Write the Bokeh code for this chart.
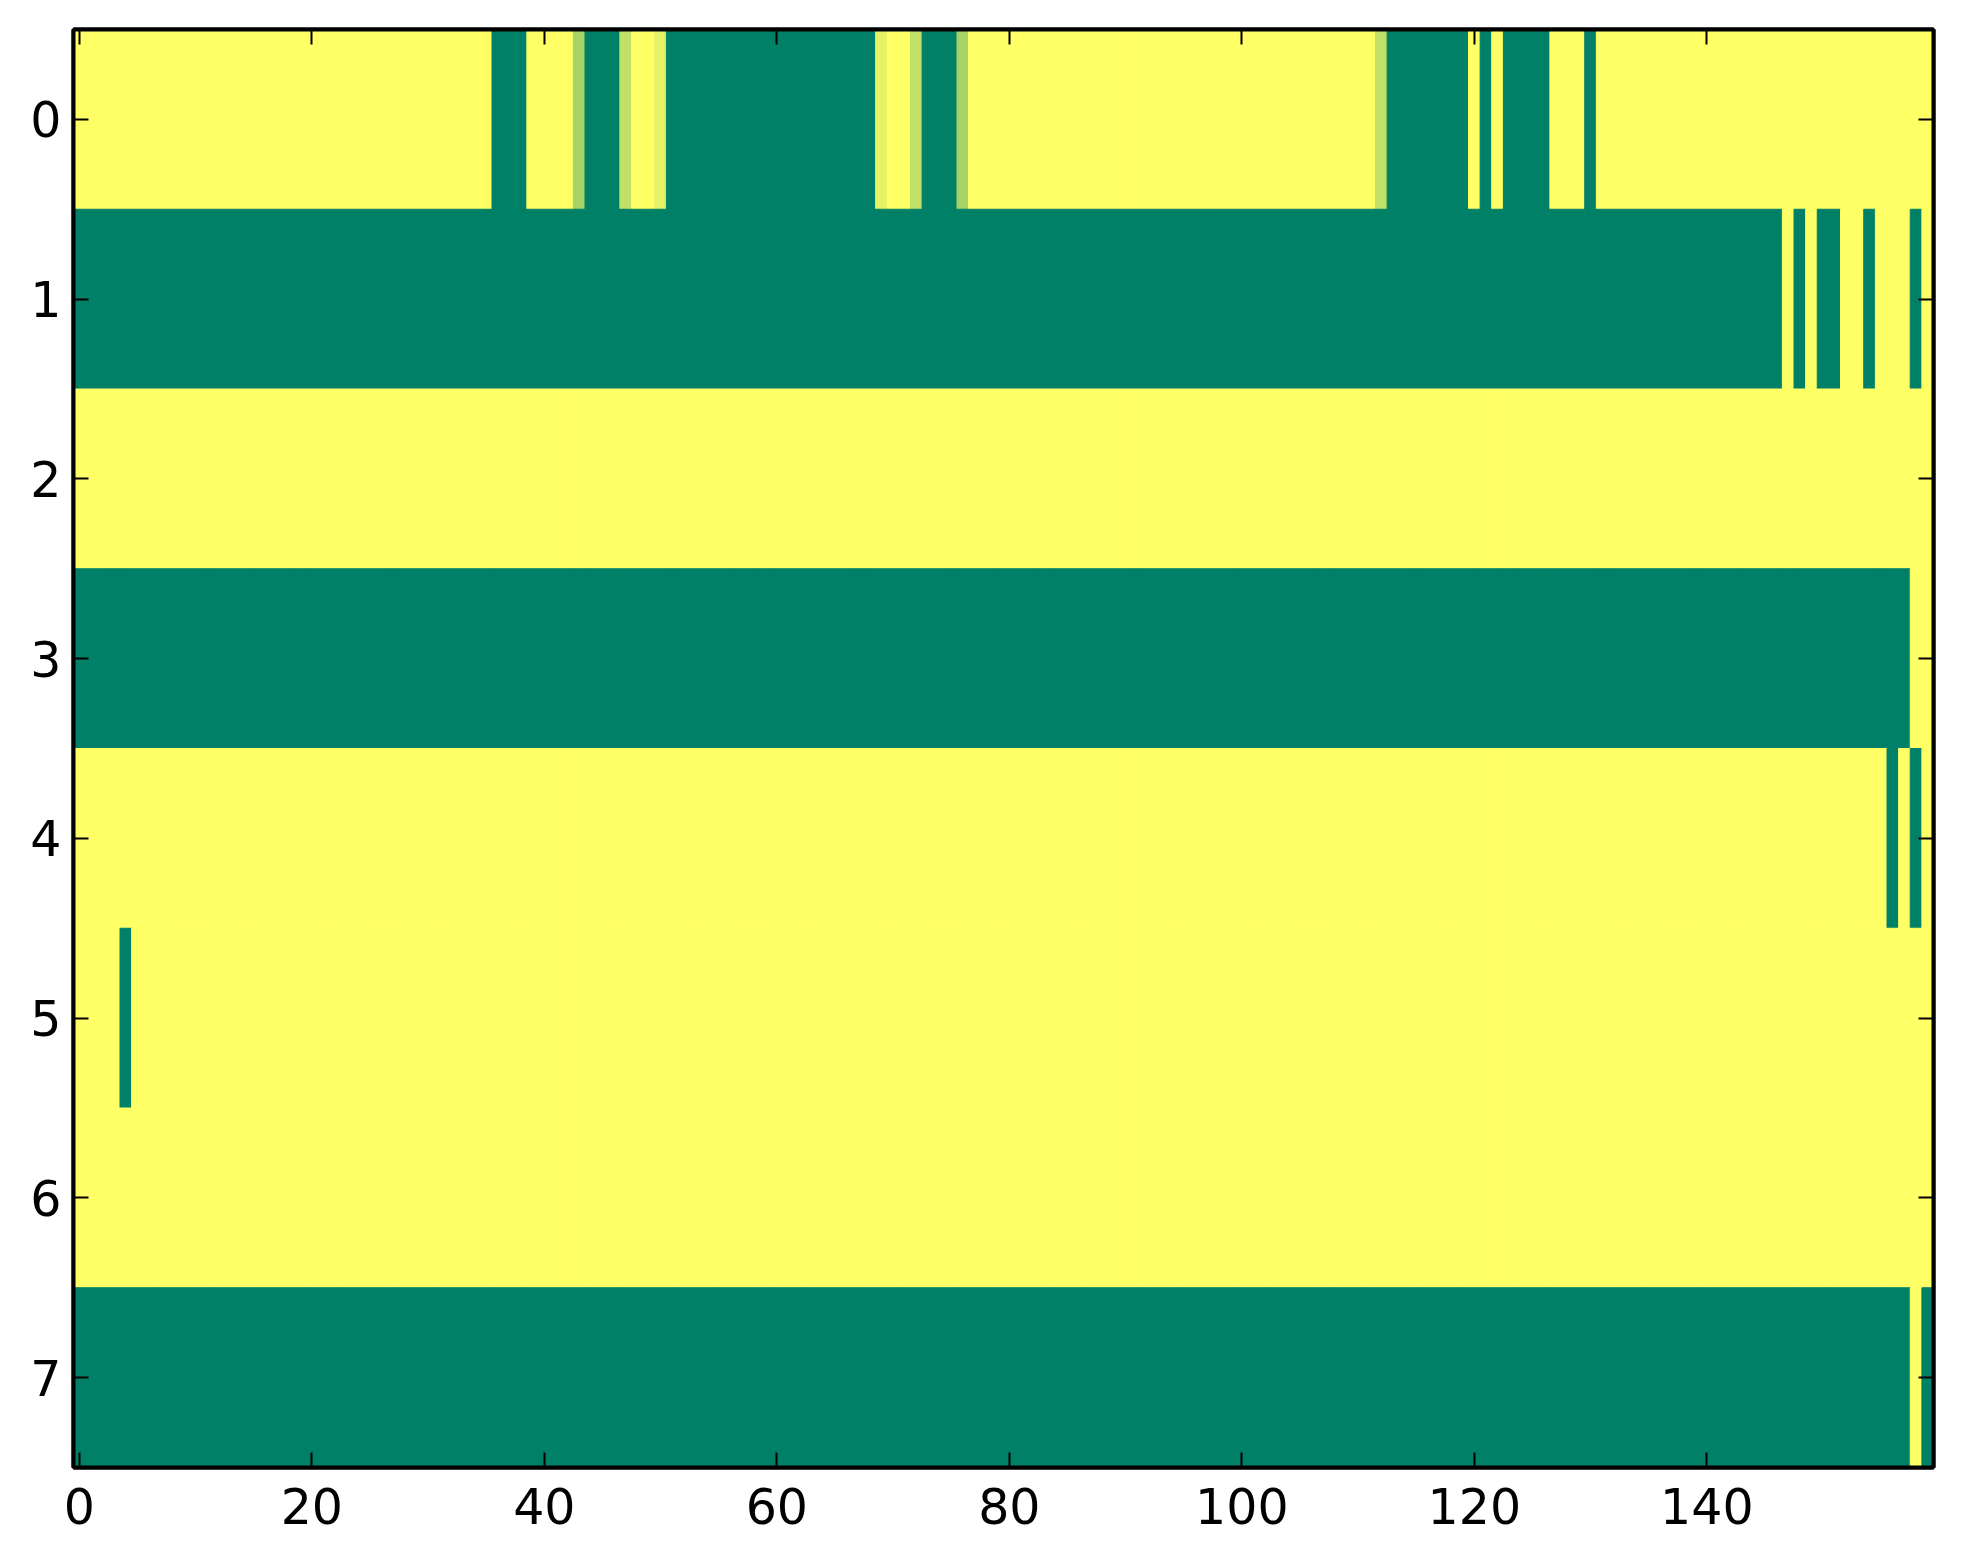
from bokeh.plotting import figure
from bokeh.models import ColumnDataSource, FixedTicker, LinearAxis, Range1d
from bokeh.transform import linear_cmap
from bokeh.embed import file_html
from bokeh.resources import INLINE
import numpy as np

# valores de cada linha (0 = verde, 1 = amarelo), 160 colunas
row_0 = ([1] * 36 + [0] * 3 + [1] * 4 + [0.65] + [0] * 3 + [0.75] + [1] * 2 + [0.9]
         + [0] * 18 + [0.9] + [1] * 2 + [0.75] + [0] * 3 + [0.65] + [1] * 35 + [0.75]
         + [0] * 7 + [1] + [0] + [1] + [0] * 4 + [1] * 3 + [0] + [1] * 29)
row_1 = [0] * 147 + [1] + [0] + [1] + [0] * 2 + [1] * 2 + [0] + [1] * 3 + [0] + [1]
row_2 = [1] * 160
row_3 = [0] * 158 + [1] * 2
row_4 = [1] * 156 + [0] + [1] + [0] + [1]
row_5 = [1] * 4 + [0] + [1] * 155
row_6 = [1] * 160
row_7 = [0] * 158 + [1] + [0]

rows = [row_0, row_1, row_2, row_3, row_4, row_5, row_6, row_7]
x_ticks = [0, 20, 40, 60, 80, 100, 120, 140]
y_ticks = [0, 1, 2, 3, 4, 5, 6, 7]

# colormap "summer" do matplotlib
summer = ["#%02x%02x%02x" % (int(round(255 * t)), int(round(255 * (0.5 + 0.5 * t))), 102)
          for t in np.linspace(0, 1, 256)]

xs, ys, vs = [], [], []
for i, r in enumerate(rows):
    for j, v in enumerate(r):
        xs.append(j)
        ys.append(i)
        vs.append(v)
source = ColumnDataSource(dict(x=xs, y=ys, v=vs))

p = figure(frame_width=1860, frame_height=1438,
           x_range=Range1d(-0.5, 159.5), y_range=Range1d(7.5, -0.5),
           output_backend="svg", toolbar_location=None,
           min_border_left=73, min_border_top=29, min_border_right=14, min_border_bottom=70)
p.grid.visible = False
p.background_fill_color = "white"
p.outline_line_color = "black"
p.outline_line_width = 4
p.outline_line_alpha = 1

cmap = linear_cmap("v", summer, 0, 1)
p.rect(x="x", y="y", width=1, height=1, source=source,
       fill_color=cmap, line_color=cmap, line_width=1)

# eixos de cima e da direita só com os ticks
top_axis = LinearAxis(major_label_text_color=None, major_label_text_font_size="1px",
                      major_label_standoff=0)
right_axis = LinearAxis(major_label_text_color=None, major_label_text_font_size="1px",
                        major_label_standoff=0)
p.add_layout(top_axis, "above")
p.add_layout(right_axis, "right")

for ax in p.xaxis:
    ax.ticker = FixedTicker(ticks=x_ticks)
for ax in p.yaxis:
    ax.ticker = FixedTicker(ticks=y_ticks)

for ax in p.axis:
    ax.axis_line_color = "black"
    ax.axis_line_width = 4
    ax.major_tick_in = 15
    ax.major_tick_out = 0
    ax.major_tick_line_width = 2
    ax.major_tick_line_color = "black"
    ax.minor_tick_line_color = None
    ax.major_label_text_font = "DejaVu Sans"

for ax in [p.below[0], p.left[0]]:
    ax.major_label_text_font_size = "49px"
    ax.major_label_text_color = "black"

p.below[0].major_label_standoff = 20
p.left[0].major_label_standoff = 12

open("out.html", "w").write(file_html(p, INLINE))
